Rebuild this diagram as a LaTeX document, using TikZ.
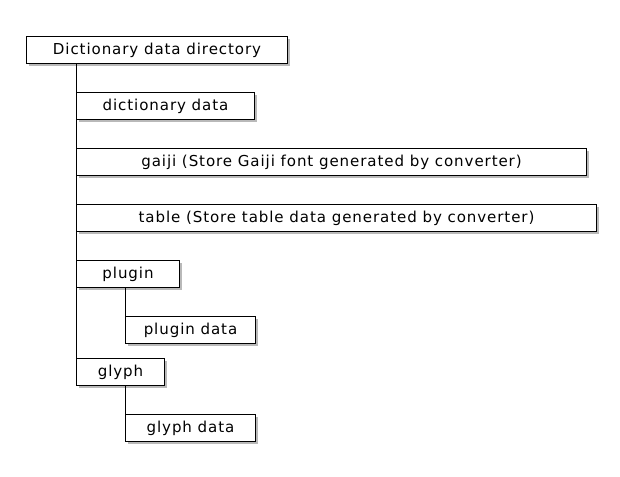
\documentclass[tikz,border=0pt]{standalone}
\usepackage{fontspec}
\setmainfont[LetterSpace=6]{DejaVu Sans}
\usetikzlibrary{shadows}
\begin{document}
\begin{tikzpicture}[x=0.75pt,y=-0.75pt,
  box/.style={draw=black,line width=0.75pt,fill=white,anchor=north west,
    minimum height=27*0.75pt,inner sep=0pt,font=\fontsize{11.3}{13}\selectfont,
    drop shadow={shadow xshift=1.8pt,shadow yshift=-1.8pt,opacity=0.55,fill=gray}},
  conn/.style={line width=0.75pt}]
\useasboundingbox (0,0) rectangle (620,476);
\fill[white] (0,0) rectangle (620,476);
\node[box,minimum width=261*0.75pt] (root) at (26,36) {Dictionary data directory};
\node[box,minimum width=178*0.75pt] (dict) at (76,92) {dictionary data};
\node[box,minimum width=510*0.75pt] (gaiji) at (76,148) {gaiji (Store Gaiji font generated by converter)};
\node[box,minimum width=520*0.75pt] (table) at (76,204) {table (Store table data generated by converter)};
\node[box,minimum width=103*0.75pt] (plugin) at (76,260) {plugin};
\node[box,minimum width=130*0.75pt] (pdata) at (125,316) {plugin data};
\node[box,minimum width=88*0.75pt] (glyph) at (76,358) {glyph};
\node[box,minimum width=130*0.75pt] (gdata) at (125,414) {glyph data};
\draw[conn] (root.south -| dict.west) -- (glyph.north west);
\draw[conn] (plugin.south -| pdata.west) -- (pdata.north west);
\draw[conn] (glyph.south -| gdata.west) -- (gdata.north west);
\end{tikzpicture}
\end{document}
